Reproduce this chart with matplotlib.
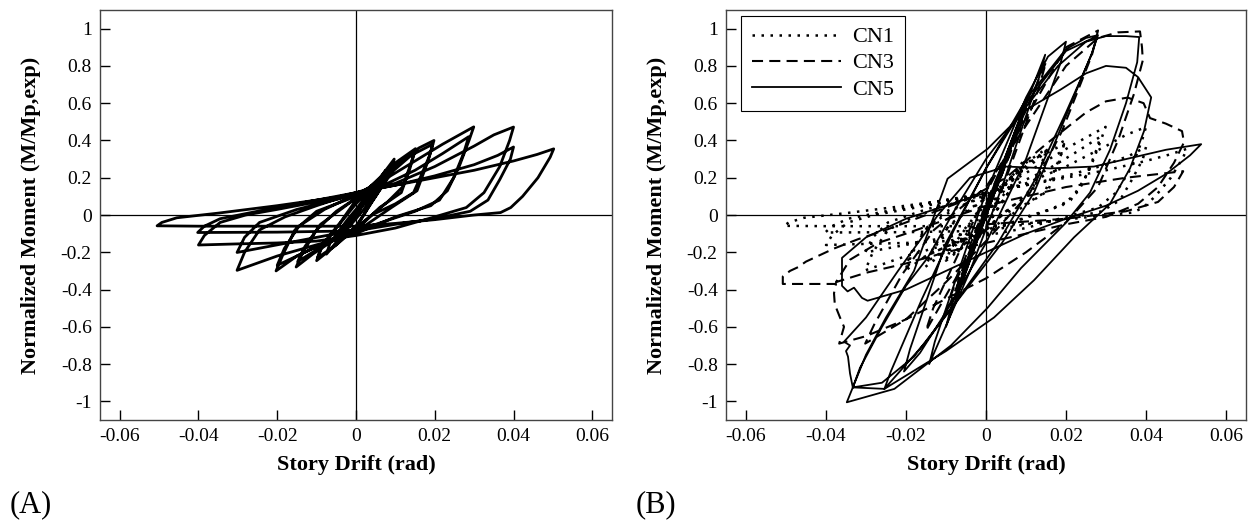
import matplotlib
matplotlib.use("Agg")
import matplotlib.pyplot as plt

plt.rcParams["font.family"] = ["Liberation Serif", "DejaVu Serif"]

# Specimen CN1 (panel A, and dotted in panel B): (story drift, normalized moment)
cn1_pts = [
    (0, 0),
    (0.003, 0.1), (0.005, 0.17), (0.0045, 0.13), (0, 0.0), (-0.005, -0.15), (-0.0045, -0.11), (0, 0.01),
    (0.0075, 0.24), (0.0066, 0.18), (0.002, 0.03), (-0.004, -0.12), (-0.0075, -0.21), (-0.0066, -0.15), (-0.002, -0.02), (0.0, 0.03),
    (0.004, 0.14), (0.0097, 0.3), (0.0088, 0.23), (0.005, 0.1), (0, -0.06), (-0.005, -0.16), (-0.01, -0.245), (-0.0088, -0.18), (-0.005, -0.07), (0, 0.06),
    (0.005, 0.17), (0.0095, 0.28), (0.0085, 0.21), (0.004, 0.07), (0, -0.07), (-0.005, -0.16), (-0.0098, -0.23), (-0.0086, -0.16), (-0.004, -0.04), (0, 0.08),
    (0.006, 0.2), (0.01, 0.28), (0.0151, 0.356), (0.014, 0.28), (0.0118, 0.15), (0.008, 0.07), (0.0, -0.07), (-0.006, -0.14), (-0.011, -0.21), (-0.0152, -0.279), (-0.0135, -0.2), (-0.01, -0.08), (-0.005, 0.02), (0, 0.09),
    (0.007, 0.21), (0.011, 0.29), (0.0148, 0.33), (0.0137, 0.25), (0.0115, 0.12), (0.006, 0.04), (0, -0.08), (-0.008, -0.16), (-0.0148, -0.25), (-0.013, -0.17), (-0.009, -0.05), (0, 0.09),
    (0.006, 0.19), (0.012, 0.3), (0.016, 0.36), (0.0198, 0.4), (0.0187, 0.32), (0.0165, 0.21), (0.0146, 0.12), (0.01, 0.06), (0.004, 0.0), (0, -0.08), (-0.008, -0.15), (-0.015, -0.22), (-0.0203, -0.3), (-0.0185, -0.21), (-0.0155, -0.08), (-0.01, 0.02), (0, 0.1),
    (0.008, 0.21), (0.014, 0.32), (0.0195, 0.38), (0.0183, 0.29), (0.0155, 0.13), (0.009, 0.04), (0, -0.09), (-0.01, -0.17), (-0.02, -0.27), (-0.0182, -0.18), (-0.0145, -0.06), (-0.008, 0.03), (0, 0.11),
    (0.008, 0.2), (0.015, 0.29), (0.022, 0.38), (0.0299, 0.473), (0.0287, 0.4), (0.0262, 0.26), (0.0232, 0.13), (0.019, 0.05), (0.01, -0.01), (0, -0.1), (-0.01, -0.16), (-0.02, -0.22), (-0.0302, -0.297), (-0.0283, -0.2), (-0.0245, -0.08), (-0.018, -0.01), (-0.01, 0.05), (0, 0.12),
    (0.008, 0.17), (0.015, 0.24), (0.022, 0.33), (0.0286, 0.42), (0.0273, 0.33), (0.0248, 0.2), (0.0212, 0.08), (0.015, 0.02), (0.005, -0.05), (-0.005, -0.1), (-0.015, -0.14), (-0.0302, -0.201), (-0.0283, -0.12), (-0.0245, -0.04), (-0.015, 0.03), (0, 0.11),
    (0.01, 0.17), (0.02, 0.26), (0.03, 0.37), (0.035, 0.43), (0.04, 0.472), (0.039, 0.4), (0.0365, 0.26), (0.0325, 0.12), (0.028, 0.04), (0.02, -0.01), (0.01, -0.07), (0, -0.11), (-0.01, -0.14), (-0.02, -0.15), (-0.03, -0.155), (-0.04, -0.161), (-0.0385, -0.11), (-0.0345, -0.04), (-0.028, 0.0), (-0.02, 0.03), (-0.01, 0.07), (0, 0.12),
    (0.01, 0.16), (0.02, 0.21), (0.03, 0.27), (0.036, 0.32), (0.04, 0.365), (0.0392, 0.3), (0.0365, 0.19), (0.0335, 0.08), (0.029, 0.02), (0.02, -0.02), (0.01, -0.05), (0, -0.085), (-0.02, -0.092), (-0.03, -0.093), (-0.0402, -0.094), (-0.0385, -0.06), (-0.0345, -0.02), (-0.025, 0.02), (-0.01, 0.08), (0, 0.12),
    (0.01, 0.16), (0.02, 0.2), (0.03, 0.24), (0.04, 0.29), (0.046, 0.325), (0.0502, 0.355), (0.0493, 0.31), (0.0462, 0.2), (0.0423, 0.1), (0.0393, 0.04), (0.0367, 0.013), (0.03, 0.0), (0.02, -0.025), (0.01, -0.045), (0, -0.06), (-0.02, -0.06), (-0.04, -0.06), (-0.0505, -0.058), (-0.0493, -0.04), (-0.0455, -0.015), (-0.035, 0.01), (-0.02, 0.05), (-0.01, 0.08), (0, 0.11),
]

# Specimen CN3 (dashed in panel B)
cn3_pts = [
    (0, 0), (0.005, 0.29), (0.004, 0.22), (-0.005, -0.27), (-0.004, -0.2), (0, 0.02),
    (0.0075, 0.44), (0.0064, 0.35), (-0.0075, -0.41), (-0.0064, -0.32), (0, 0.03),
    (0.01, 0.58), (0.0086, 0.47), (-0.01, -0.53), (-0.0086, -0.42), (0, 0.06),
    (0.015, 0.82), (0.0132, 0.68), (0.002, 0.02), (-0.015, -0.62), (-0.0132, -0.5), (-0.002, 0.02), (0, 0.12),
    (0.01, 0.52), (0.02, 0.9), (0.028, 0.99), (0.0265, 0.86), (0.019, 0.45), (0.011, 0.12), (0, -0.14), (-0.01, -0.36), (-0.02, -0.56), (-0.0302, -0.69), (-0.028, -0.59), (-0.021, -0.32), (-0.013, -0.08), (0, 0.15),
    (0.01, 0.48), (0.02, 0.8), (0.028, 0.95), (0.033, 0.98), (0.0385, 0.985), (0.039, 0.9), (0.0392, 0.83), (0.037, 0.65), (0.033, 0.4), (0.028, 0.15), (0.02, -0.04), (0.01, -0.2), (0, -0.34), (-0.01, -0.45), (-0.02, -0.56), (-0.03, -0.65), (-0.0367, -0.69),
    (-0.0355, -0.6), (-0.0365, -0.55), (-0.0378, -0.48), (-0.038, -0.42), (-0.0375, -0.37), (-0.045, -0.37), (-0.0508, -0.37), (-0.0508, -0.33), (-0.049, -0.3), (-0.047, -0.28), (-0.045, -0.25), (-0.042, -0.22), (-0.038, -0.18), (-0.032, -0.13), (-0.025, -0.08), (-0.015, 0.0), (-0.005, 0.08),
    (0.005, 0.2), (0.015, 0.38), (0.025, 0.55), (0.03, 0.61), (0.0354, 0.63), (0.0394, 0.6), (0.041, 0.52), (0.045, 0.49), (0.049, 0.45), (0.0495, 0.39), (0.047, 0.28), (0.043, 0.15), (0.038, 0.06), (0.03, -0.01), (0.02, -0.05), (0.01, -0.1), (0, -0.15), (-0.01, -0.2), (-0.02, -0.26), (-0.03, -0.31), (-0.0375, -0.36),
    (-0.034, -0.24), (-0.027, -0.15), (-0.02, -0.1), (0, 0.05), (0.02, 0.15), (0.035, 0.2), (0.0493, 0.235), (0.047, 0.15), (0.043, 0.07), (0.035, 0.02), (0.02, -0.02), (0, -0.05),
]

# Specimen CN5 (solid in panel B)
cn5_pts = [
    (0, 0), (0.005, 0.3), (0.0042, 0.24), (-0.005, -0.29), (-0.0042, -0.23), (0, 0.02),
    (0.0075, 0.46), (0.0065, 0.38), (-0.0075, -0.45), (-0.0065, -0.37), (0, 0.03),
    (0.01, 0.61), (0.0088, 0.51), (-0.01, -0.6), (-0.0088, -0.5), (0, 0.05),
    (0.0148, 0.86), (0.0133, 0.74), (0.004, 0.15), (-0.004, -0.3), (-0.0142, -0.8), (-0.0128, -0.68), (-0.004, -0.12), (0, 0.12),
    (0.01, 0.63), (0.0155, 0.85), (0.02, 0.93), (0.0187, 0.82), (0.01, 0.3), (0, -0.15), (-0.01, -0.52), (-0.0165, -0.74), (-0.0205, -0.84), (-0.019, -0.72), (-0.01, -0.15), (0, 0.25),
    (0.01, 0.62), (0.02, 0.89), (0.025, 0.95), (0.028, 0.965), (0.0265, 0.87), (0.019, 0.48), (0.012, 0.12), (0.004, -0.15), (-0.005, -0.4), (-0.015, -0.68), (-0.0254, -0.933), (-0.0238, -0.84), (-0.016, -0.45), (-0.008, -0.08), (0, 0.25),
    (0.01, 0.6), (0.02, 0.88), (0.0278, 0.96), (0.0264, 0.86), (0.02, 0.55), (0.012, 0.18), (0.003, -0.15), (-0.008, -0.48), (-0.018, -0.76), (-0.026, -0.9), (-0.0333, -0.925), (-0.0315, -0.82), (-0.026, -0.6), (-0.02, -0.38), (-0.0146, -0.23), (-0.008, 0.02), (0, 0.3),
    (0.01, 0.58), (0.018, 0.8), (0.025, 0.93), (0.03, 0.96), (0.035, 0.96), (0.0383, 0.955), (0.0378, 0.82), (0.035, 0.6), (0.031, 0.35), (0.026, 0.12), (0.0196, -0.05), (0.00875, -0.285), (0.0004, -0.498), (-0.00875, -0.7), (-0.0229, -0.933), (-0.0348, -1.005),
    (-0.0333, -0.925), (-0.03, -0.75), (-0.025, -0.55), (-0.018, -0.3), (-0.0096, 0.195), (0.0004, 0.355), (0.0104, 0.569), (0.0188, 0.675), (0.025, 0.76), (0.03, 0.8), (0.035, 0.79), (0.038, 0.74), (0.0413, 0.631),
    (0.0395, 0.45), (0.036, 0.25), (0.031, 0.06), (0.022, -0.12), (0.012, -0.35), (0.002, -0.55), (-0.01, -0.73), (-0.0254, -0.933),
    (-0.0333, -0.925), (-0.034, -0.85), (-0.0345, -0.76), (-0.035, -0.73), (-0.034, -0.7), (-0.0355, -0.68),
    (-0.03, -0.55), (-0.022, -0.3), (-0.012, 0.0), (-0.004, 0.2), (0.005, 0.26), (0.016, 0.25), (0.027, 0.26), (0.035, 0.3), (0.045, 0.35), (0.0538, 0.38),
    (0.051, 0.32), (0.045, 0.22), (0.038, 0.13), (0.03, 0.05), (0.02, -0.02), (0.01, -0.1), (0, -0.2), (-0.01, -0.3), (-0.02, -0.4), (-0.0296, -0.46),
    (-0.031, -0.445), (-0.033, -0.39), (-0.0346, -0.41), (-0.036, -0.38), (-0.036, -0.23), (-0.03, -0.12), (-0.02, -0.02), (-0.01, 0.05), (0, 0.12),
]

x_ticks = [-0.06, -0.04, -0.02, 0, 0.02, 0.04, 0.06]
x_tick_labels = ["-0.06", "-0.04", "-0.02", "0", "0.02", "0.04", "0.06"]
y_ticks = [-1, -0.8, -0.6, -0.4, -0.2, 0, 0.2, 0.4, 0.6, 0.8, 1]
y_tick_labels = ["-1", "-0.8", "-0.6", "-0.4", "-0.2", "0", "0.2", "0.4", "0.6", "0.8", "1"]


def xy(pts):
    return [p[0] for p in pts], [p[1] for p in pts]


fig = plt.figure(figsize=(12.52, 5.27), dpi=100)
W, H = 1252, 527
ax_a = fig.add_axes([100 / W, (527 - 420) / H, 512 / W, 410 / H])
ax_b = fig.add_axes([726 / W, (527 - 420) / H, 520 / W, 410 / H])

for ax, ycoord in ((ax_a, -0.115), (ax_b, -0.113)):
    ax.set_xlim(-0.065, 0.065)
    ax.set_ylim(-1.1, 1.1)
    ax.axhline(0, color="black", lw=0.9, zorder=1)
    ax.axvline(0, color="black", lw=0.9, zorder=1)
    ax.set_xticks(x_ticks)
    ax.set_xticklabels(x_tick_labels)
    ax.set_yticks(y_ticks)
    ax.set_yticklabels(y_tick_labels)
    ax.tick_params(direction="in", length=7, width=1, labelsize=14, pad=6,
                   top=False, right=False)
    for s in ax.spines.values():
        s.set_color("#444444")
        s.set_linewidth(1.0)
    ax.set_xlabel("Story Drift (rad)", fontsize=16, fontweight="bold")
    ax.set_ylabel("Normalized Moment (M/Mp,exp)", fontsize=16, fontweight="bold")
    ax.xaxis.set_label_coords(0.5, -0.085)
    ax.yaxis.set_label_coords(ycoord, 0.5)

# Panel A
x, y = xy(cn1_pts)
ax_a.plot(x, y, color="black", lw=2.0, solid_joinstyle="round")

# Panel B
x, y = xy(cn1_pts)
ax_b.plot(x, y, color="black", lw=1.8, linestyle=(0, (1, 2.6)), label="CN1")
x, y = xy(cn3_pts)
ax_b.plot(x, y, color="black", lw=1.5, linestyle=(0, (5.3, 3)), label="CN3")
x, y = xy(cn5_pts)
ax_b.plot(x, y, color="black", lw=1.3, label="CN5")

leg = ax_b.legend(loc="upper left", bbox_to_anchor=(741 / W, 1 - 15.7 / H),
                  bbox_transform=fig.transFigure, borderaxespad=0,
                  fontsize=16, frameon=True, fancybox=False, framealpha=1,
                  edgecolor="black", handlelength=4, borderpad=0.5,
                  labelspacing=0.25, handletextpad=0.5)
leg.get_frame().set_linewidth(0.8)

fig.text(10 / W, 1 - 505 / H, "(A)", fontsize=22, va="center", ha="left")
fig.text(636 / W, 1 - 505 / H, "(B)", fontsize=22, va="center", ha="left")

fig.savefig("out.png", dpi=100)
